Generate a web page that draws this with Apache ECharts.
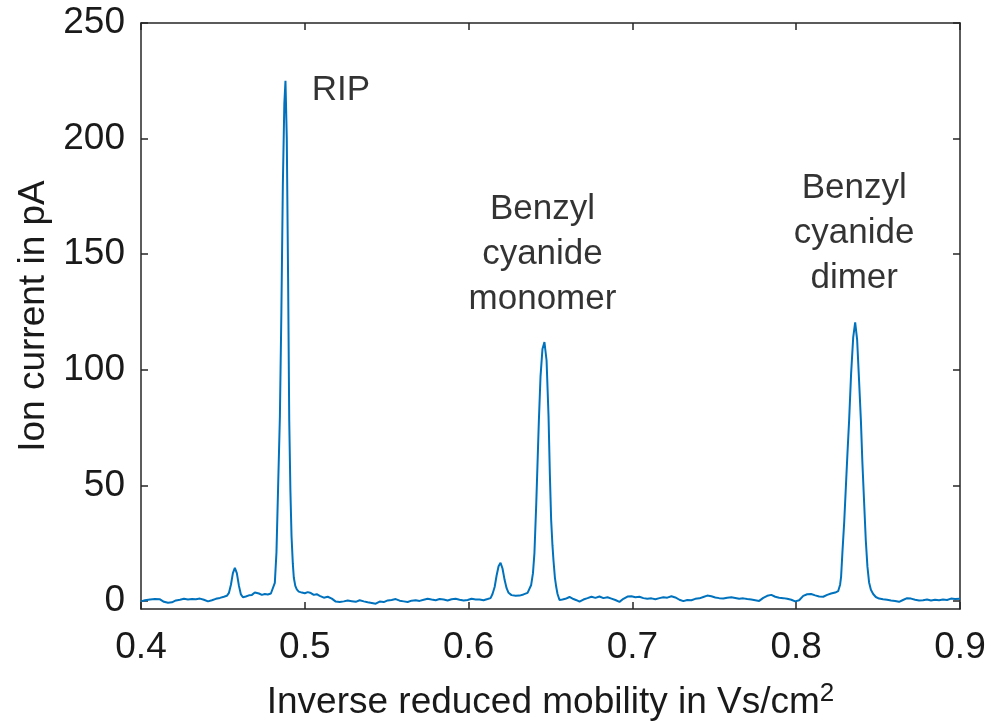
<!DOCTYPE html>
<html>
<head>
<meta charset="utf-8">
<script src="https://cdn.jsdelivr.net/npm/echarts@6/dist/echarts.min.js"></script>
<style>
html,body{margin:0;padding:0;background:#fff;}
#chart{width:1004px;height:724px;}
</style>
</head>
<body>
<div id="chart"></div>
<script>
// Inverse reduced mobility (Vs/cm^2)
const mobility = [
0.4000,0.4024,0.4055,0.4085,0.4116,0.4140,0.4165,0.4189,0.4213,0.4238,
0.4262,0.4287,0.4311,0.4335,0.4360,0.4384,0.4409,0.4433,0.4457,0.4482,
0.4506,0.4524,0.4537,0.4549,0.4561,0.4573,0.4585,0.4598,0.4610,0.4622,
0.4640,0.4659,0.4677,0.4695,0.4707,0.4720,0.4738,0.4756,0.4774,0.4793,
0.4805,0.4817,0.4827,0.4837,0.4848,0.4857,0.4866,0.4875,0.4882,0.4890,
0.4898,0.4905,0.4912,0.4919,0.4927,0.4933,0.4942,0.4951,0.4963,0.4982,
0.5000,0.5018,0.5037,0.5055,0.5073,0.5091,0.5116,0.5140,0.5165,0.5189,
0.5213,0.5238,0.5262,0.5287,0.5311,0.5335,0.5360,0.5384,0.5409,0.5433,
0.5457,0.5482,0.5506,0.5530,0.5555,0.5579,0.5604,0.5628,0.5652,0.5677,
0.5701,0.5726,0.5750,0.5774,0.5799,0.5823,0.5848,0.5872,0.5896,0.5921,
0.5945,0.5970,0.5994,0.6018,0.6043,0.6067,0.6091,0.6116,0.6134,0.6146,
0.6159,0.6171,0.6183,0.6195,0.6207,0.6220,0.6232,0.6244,0.6262,0.6287,
0.6311,0.6335,0.6360,0.6382,0.6393,0.6402,0.6413,0.6421,0.6429,0.6439,
0.6451,0.6463,0.6476,0.6488,0.6496,0.6504,0.6512,0.6518,0.6527,0.6535,
0.6543,0.6555,0.6573,0.6591,0.6616,0.6640,0.6659,0.6677,0.6701,0.6726,
0.6750,0.6774,0.6799,0.6823,0.6848,0.6872,0.6896,0.6921,0.6945,0.6970,
0.6994,0.7018,0.7043,0.7067,0.7091,0.7116,0.7140,0.7165,0.7189,0.7213,
0.7238,0.7262,0.7287,0.7311,0.7335,0.7360,0.7384,0.7409,0.7433,0.7457,
0.7482,0.7506,0.7530,0.7555,0.7579,0.7604,0.7628,0.7652,0.7677,0.7701,
0.7726,0.7750,0.7774,0.7799,0.7823,0.7848,0.7872,0.7896,0.7921,0.7945,
0.7970,0.7994,0.8018,0.8043,0.8067,0.8091,0.8116,0.8140,0.8165,0.8189,
0.8213,0.8238,0.8256,0.8268,0.8274,0.8282,0.8293,0.8303,0.8313,0.8323,
0.8335,0.8348,0.8360,0.8372,0.8384,0.8395,0.8404,0.8415,0.8425,0.8435,
0.8445,0.8456,0.8470,0.8486,0.8506,0.8530,0.8555,0.8579,0.8604,0.8628,
0.8652,0.8677,0.8701,0.8726,0.8750,0.8774,0.8799,0.8823,0.8848,0.8872,
0.8896,0.8921,0.8945,0.8970,0.9000
];
// Ion current (pA)
const current = [
-0.2,0.3,0.6,0.8,0.7,-0.4,-0.8,-0.6,0.2,0.5,
0.9,0.6,0.8,0.7,1.0,0.5,-0.2,0.3,0.9,1.3,
1.8,2.2,3.5,7.0,12.0,14.3,12.0,6.5,2.8,1.6,
1.9,2.4,2.6,3.6,4.2,3.2,2.6,3.0,2.8,3.2,
4.0,7.8,21.0,49.0,80.0,125.0,180.0,215.0,225.0,200.0,
140.0,78.0,48.0,28.0,16.0,10.0,6.5,5.0,4.0,3.6,
3.3,3.8,3.4,2.6,2.9,2.2,1.4,1.8,1.0,-0.3,
-0.5,-0.2,0.2,-0.1,-0.4,0.3,-0.2,-0.6,-0.9,-1.2,
-0.3,-0.5,0.2,0.4,0.8,0.1,-0.2,-0.5,0.1,0.3,
0.0,0.5,0.9,0.6,0.3,0.8,0.6,0.2,0.7,0.9,
0.5,0.2,0.4,0.9,0.6,0.6,0.3,0.8,1.2,3.0,
6.0,11.0,15.0,16.5,14.0,9.0,5.5,3.5,2.5,2.2,
2.3,2.8,3.5,6.9,12.0,20.8,42.0,60.0,78.0,97.0,
109.0,112.0,104.0,80.0,55.0,35.0,24.0,17.7,10.0,6.0,
3.0,0.4,0.6,0.9,1.7,0.8,0.3,-0.3,0.6,1.2,
1.8,1.3,1.9,1.2,1.6,1.0,0.4,-0.4,0.9,1.9,
2.0,1.6,1.8,1.2,0.9,1.1,0.7,1.2,1.6,1.4,
2.0,1.5,0.5,-0.1,0.4,0.3,0.9,1.1,1.7,2.3,
2.0,1.5,1.2,1.0,1.4,1.6,1.3,0.9,1.1,0.8,
0.6,0.3,0.0,1.3,2.2,2.6,1.8,1.4,1.2,0.9,
0.5,-0.2,0.3,2.2,2.9,3.0,2.4,1.9,1.8,2.6,
3.2,3.6,4.2,7.0,10.4,20.8,34.0,49.0,64.0,78.0,
98.0,114.0,120.5,113.0,95.0,78.0,60.0,42.0,26.0,14.7,
8.0,4.8,3.0,1.7,1.0,0.7,0.5,0.2,0.0,-0.4,
0.4,1.2,1.0,0.5,0.2,0.3,0.6,0.2,0.5,0.3,
0.6,0.4,1.0,0.8,0.9
];
const xTicks = [0.4, 0.5, 0.6, 0.7, 0.8, 0.9];
const yTicks = [0, 50, 100, 150, 200, 250];
const annoLabels = ['RIP', 'Benzyl\ncyanide\nmonomer', 'Benzyl\ncyanide\ndimer'];
const annoX = [0.5220, 0.6451, 0.8354];
const annoY = [221.0, 150.0, 158.8];

const FONT = "'Liberation Sans', Arial, sans-serif";
const AX = '#262626';
const lineData = mobility.map((x, i) => [x, current[i]]);
const annoData = annoLabels.map((t, i) => [annoX[i], annoY[i], t]);

const chart = echarts.init(document.getElementById('chart'), null, {renderer: 'canvas'});
const xBase = {
  type: 'value', min: 0.4, max: 0.9, interval: 0.1,
  axisLine: {show: true, onZero: false, lineStyle: {color: AX, width: 1.5}},
  axisTick: {show: true, inside: true, length: 7, lineStyle: {color: AX, width: 1.5}},
  splitLine: {show: false}
};
const yBase = {
  type: 'value', min: -3.5, max: 250,
  axisLine: {show: true, onZero: false, lineStyle: {color: AX, width: 1.5}},
  axisTick: {show: true, inside: true, length: 7, customValues: yTicks, lineStyle: {color: AX, width: 1.5}},
  splitLine: {show: false}
};
chart.setOption({
  animation: false,
  backgroundColor: '#fff',
  grid: {left: 141, right: 44, top: 23, bottom: 115, containLabel: false, outerBoundsMode: 'none'},
  xAxis: [
    Object.assign({}, xBase, {
      position: 'bottom',
      axisLabel: {show: true, margin: 20, fontSize: 37, fontFamily: FONT, color: '#1a1a1a',
        formatter: v => v.toFixed(1), customValues: xTicks},
      name: 'Inverse reduced mobility in Vs/cm{sup|2}',
      nameLocation: 'middle', nameGap: 72,
      nameTextStyle: {fontSize: 37, fontFamily: FONT, color: '#1a1a1a',
        rich: {sup: {fontSize: 26, fontFamily: FONT, color: '#1a1a1a', padding: [0, 0, 18, 0]}}}
    }),
    Object.assign({}, xBase, {position: 'top', axisLabel: {show: false}})
  ],
  yAxis: [
    Object.assign({}, yBase, {
      position: 'left',
      axisLabel: {show: true, margin: 16, fontSize: 37, fontFamily: FONT, color: '#1a1a1a', customValues: yTicks},
      name: 'Ion current in pA', nameLocation: 'middle', nameGap: 83,
      nameTextStyle: {fontSize: 37, fontFamily: FONT, color: '#1a1a1a'}
    }),
    Object.assign({}, yBase, {position: 'right', axisLabel: {show: false}})
  ],
  series: [
    {
      type: 'line', data: lineData, xAxisIndex: 0, yAxisIndex: 0,
      showSymbol: false, symbol: 'none',
      lineStyle: {color: '#0072BD', width: 2},
      clip: true
    },
    {
      type: 'scatter', data: annoData, xAxisIndex: 0, yAxisIndex: 0,
      symbolSize: 0, silent: true,
      label: {show: true, position: 'inside', formatter: p => p.data[2],
        fontSize: 35, fontFamily: FONT, color: '#000', lineHeight: 45, align: 'center'}
    }
  ]
});
</script>
</body>
</html>
